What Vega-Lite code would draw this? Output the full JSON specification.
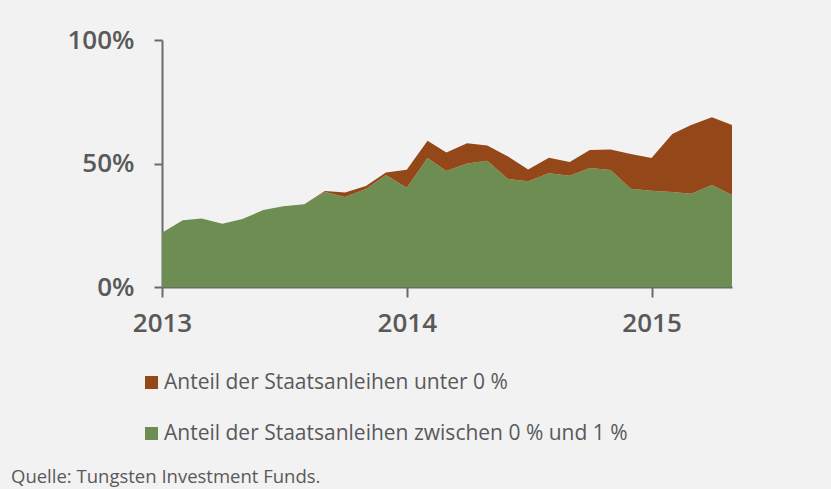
{
  "$schema": "https://vega.github.io/schema/vega-lite/v6.json",
  "width": 570,
  "height": 247,
  "autosize": {"type": "none"},
  "padding": {"left": 162, "top": 40, "right": 99, "bottom": 202},
  "background": "#f2f2f2",
  "config": {
    "view": {"stroke": null},
    "font": "Open Sans"
  },
  "title": {
    "text": "Quelle: Tungsten Investment Funds.",
    "orient": "bottom",
    "anchor": "start",
    "frame": "group",
    "dx": -151,
    "offset": 24,
    "fontSize": 18.5,
    "fontWeight": "normal",
    "color": "#595959",
    "font": "Open Sans"
  },
  "data": {
    "values": [
      {"date": "2013-01-01", "series": "Anteil der Staatsanleihen zwischen 0 % und 1 %", "value": 22},
      {"date": "2013-02-01", "series": "Anteil der Staatsanleihen zwischen 0 % und 1 %", "value": 27},
      {"date": "2013-03-01", "series": "Anteil der Staatsanleihen zwischen 0 % und 1 %", "value": 27.7},
      {"date": "2013-04-01", "series": "Anteil der Staatsanleihen zwischen 0 % und 1 %", "value": 25.6},
      {"date": "2013-05-01", "series": "Anteil der Staatsanleihen zwischen 0 % und 1 %", "value": 27.5},
      {"date": "2013-06-01", "series": "Anteil der Staatsanleihen zwischen 0 % und 1 %", "value": 31.2},
      {"date": "2013-07-01", "series": "Anteil der Staatsanleihen zwischen 0 % und 1 %", "value": 32.7},
      {"date": "2013-08-01", "series": "Anteil der Staatsanleihen zwischen 0 % und 1 %", "value": 33.5},
      {"date": "2013-09-01", "series": "Anteil der Staatsanleihen zwischen 0 % und 1 %", "value": 38.5},
      {"date": "2013-10-01", "series": "Anteil der Staatsanleihen zwischen 0 % und 1 %", "value": 36.4},
      {"date": "2013-11-01", "series": "Anteil der Staatsanleihen zwischen 0 % und 1 %", "value": 39.7},
      {"date": "2013-12-01", "series": "Anteil der Staatsanleihen zwischen 0 % und 1 %", "value": 45.3},
      {"date": "2014-01-01", "series": "Anteil der Staatsanleihen zwischen 0 % und 1 %", "value": 40.2},
      {"date": "2014-02-01", "series": "Anteil der Staatsanleihen zwischen 0 % und 1 %", "value": 52.2},
      {"date": "2014-03-01", "series": "Anteil der Staatsanleihen zwischen 0 % und 1 %", "value": 47},
      {"date": "2014-04-01", "series": "Anteil der Staatsanleihen zwischen 0 % und 1 %", "value": 50},
      {"date": "2014-05-01", "series": "Anteil der Staatsanleihen zwischen 0 % und 1 %", "value": 51.1},
      {"date": "2014-06-01", "series": "Anteil der Staatsanleihen zwischen 0 % und 1 %", "value": 43.7},
      {"date": "2014-07-01", "series": "Anteil der Staatsanleihen zwischen 0 % und 1 %", "value": 42.8},
      {"date": "2014-08-01", "series": "Anteil der Staatsanleihen zwischen 0 % und 1 %", "value": 46.1},
      {"date": "2014-09-01", "series": "Anteil der Staatsanleihen zwischen 0 % und 1 %", "value": 45},
      {"date": "2014-10-01", "series": "Anteil der Staatsanleihen zwischen 0 % und 1 %", "value": 48.2},
      {"date": "2014-11-01", "series": "Anteil der Staatsanleihen zwischen 0 % und 1 %", "value": 47.4},
      {"date": "2014-12-01", "series": "Anteil der Staatsanleihen zwischen 0 % und 1 %", "value": 39.8},
      {"date": "2015-01-01", "series": "Anteil der Staatsanleihen zwischen 0 % und 1 %", "value": 39},
      {"date": "2015-02-01", "series": "Anteil der Staatsanleihen zwischen 0 % und 1 %", "value": 38.5},
      {"date": "2015-03-01", "series": "Anteil der Staatsanleihen zwischen 0 % und 1 %", "value": 37.8},
      {"date": "2015-04-01", "series": "Anteil der Staatsanleihen zwischen 0 % und 1 %", "value": 41.3},
      {"date": "2015-05-01", "series": "Anteil der Staatsanleihen zwischen 0 % und 1 %", "value": 37.2},
      {"date": "2013-01-01", "series": "Anteil der Staatsanleihen unter 0 %", "value": 0},
      {"date": "2013-02-01", "series": "Anteil der Staatsanleihen unter 0 %", "value": 0},
      {"date": "2013-03-01", "series": "Anteil der Staatsanleihen unter 0 %", "value": 0},
      {"date": "2013-04-01", "series": "Anteil der Staatsanleihen unter 0 %", "value": 0},
      {"date": "2013-05-01", "series": "Anteil der Staatsanleihen unter 0 %", "value": 0},
      {"date": "2013-06-01", "series": "Anteil der Staatsanleihen unter 0 %", "value": 0},
      {"date": "2013-07-01", "series": "Anteil der Staatsanleihen unter 0 %", "value": 0},
      {"date": "2013-08-01", "series": "Anteil der Staatsanleihen unter 0 %", "value": 0},
      {"date": "2013-09-01", "series": "Anteil der Staatsanleihen unter 0 %", "value": 0.4},
      {"date": "2013-10-01", "series": "Anteil der Staatsanleihen unter 0 %", "value": 1.9},
      {"date": "2013-11-01", "series": "Anteil der Staatsanleihen unter 0 %", "value": 1.2},
      {"date": "2013-12-01", "series": "Anteil der Staatsanleihen unter 0 %", "value": 1.1},
      {"date": "2014-01-01", "series": "Anteil der Staatsanleihen unter 0 %", "value": 7.3},
      {"date": "2014-02-01", "series": "Anteil der Staatsanleihen unter 0 %", "value": 7.0},
      {"date": "2014-03-01", "series": "Anteil der Staatsanleihen unter 0 %", "value": 7.5},
      {"date": "2014-04-01", "series": "Anteil der Staatsanleihen unter 0 %", "value": 8.2},
      {"date": "2014-05-01", "series": "Anteil der Staatsanleihen unter 0 %", "value": 6.2},
      {"date": "2014-06-01", "series": "Anteil der Staatsanleihen unter 0 %", "value": 9.1},
      {"date": "2014-07-01", "series": "Anteil der Staatsanleihen unter 0 %", "value": 4.8},
      {"date": "2014-08-01", "series": "Anteil der Staatsanleihen unter 0 %", "value": 6.2},
      {"date": "2014-09-01", "series": "Anteil der Staatsanleihen unter 0 %", "value": 5.6},
      {"date": "2014-10-01", "series": "Anteil der Staatsanleihen unter 0 %", "value": 7.3},
      {"date": "2014-11-01", "series": "Anteil der Staatsanleihen unter 0 %", "value": 8.3},
      {"date": "2014-12-01", "series": "Anteil der Staatsanleihen unter 0 %", "value": 14.0},
      {"date": "2015-01-01", "series": "Anteil der Staatsanleihen unter 0 %", "value": 13.2},
      {"date": "2015-02-01", "series": "Anteil der Staatsanleihen unter 0 %", "value": 23.4},
      {"date": "2015-03-01", "series": "Anteil der Staatsanleihen unter 0 %", "value": 27.8},
      {"date": "2015-04-01", "series": "Anteil der Staatsanleihen unter 0 %", "value": 27.4},
      {"date": "2015-05-01", "series": "Anteil der Staatsanleihen unter 0 %", "value": 28.4}
    ]
  },
  "mark": {"type": "area", "interpolate": "linear"},
  "encoding": {
    "x": {
      "field": "date",
      "type": "temporal",
      "scale": {"type": "utc", "nice": false},
      "axis": {
        "values": ["2013-01-01", "2014-01-01", "2015-01-01"],
        "format": "%Y",
        "formatType": "utc",
        "title": null,
        "grid": false,
        "labelFlush": false,
        "domainColor": "#6b6b6b",
        "domainWidth": 2,
        "tickColor": "#6b6b6b",
        "tickWidth": 2,
        "tickSize": 10,
        "labelFontSize": 26,
        "labelFontWeight": 600,
        "labelColor": "#595959",
        "labelPadding": 13,
        "labelFont": "Open Sans"
      }
    },
    "y": {
      "field": "value",
      "type": "quantitative",
      "stack": "zero",
      "scale": {"domain": [0, 100], "nice": false},
      "axis": {
        "values": [0, 50, 100],
        "labelExpr": "datum.value + '%'",
        "title": null,
        "grid": false,
        "domainColor": "#6b6b6b",
        "domainWidth": 2,
        "tickColor": "#6b6b6b",
        "tickWidth": 2,
        "tickSize": 8,
        "labelFontSize": 26,
        "labelFontWeight": 600,
        "labelColor": "#595959",
        "labelPadding": 20,
        "labelFont": "Open Sans"
      }
    },
    "color": {
      "field": "series",
      "type": "nominal",
      "scale": {
        "domain": ["Anteil der Staatsanleihen unter 0 %", "Anteil der Staatsanleihen zwischen 0 % und 1 %"],
        "range": ["#944719", "#6e8d53"]
      },
      "legend": {
        "orient": "none",
        "legendX": -21,
        "legendY": 332,
        "direction": "vertical",
        "title": null,
        "symbolType": "square",
        "symbolSize": 170,
        "symbolStrokeWidth": 0,
        "labelFontSize": 21,
        "labelColor": "#595959",
        "labelFont": "Open Sans",
        "labelLimit": 700,
        "rowPadding": 29,
        "labelOffset": 2
      }
    },
    "order": {"field": "series", "sort": "descending"}
  }
}
